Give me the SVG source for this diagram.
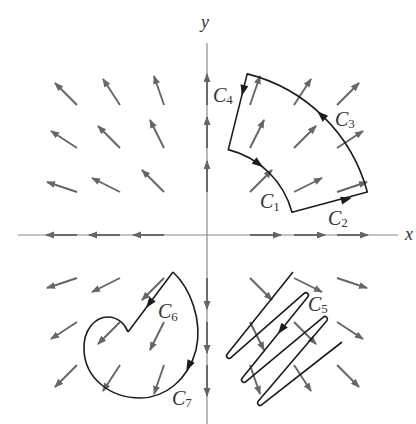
<svg xmlns="http://www.w3.org/2000/svg" width="416" height="424" viewBox="0 0 416 424">
<defs>
<style>
.ax{stroke:#8a8a8a;stroke-width:1.2;fill:none}
.fa line{stroke:#666;stroke-width:1.9;marker-end:url(#fh)}
.cv{stroke:#1c1c1c;stroke-width:1.6;fill:none;stroke-linejoin:round}
.ah{fill:#1c1c1c}
.lb{font-family:"Liberation Serif","DejaVu Serif",serif;font-style:italic;font-size:20px;fill:#333}
.lb tspan{font-size:13px;font-style:normal}
</style>
<marker id="fh" markerUnits="userSpaceOnUse" markerWidth="10" markerHeight="8" refX="8" refY="3.5" orient="auto">
<path d="M0,0 L9,3.5 L0,7 z" fill="#666"/>
</marker>
<path id="ahp" d="M5,0 L-6,-4 L-6,4 z"/>
</defs>
<rect width="416" height="424" fill="#fff"/>
<g id="axes">
<line class="ax" x1="18" y1="235" x2="398" y2="235"/>
<line class="ax" x1="207" y1="43" x2="207" y2="424"/>
<text x="205" y="28" class="lb" text-anchor="middle" style="font-size:18px">y</text>
<text x="405" y="240" class="lb" style="font-size:18px">x</text>
</g>
<g id="field" class="fa" transform="translate(207,235)">
<line x1="43" y1="-43" x2="65" y2="-65"/>
<line x1="87" y1="-43" x2="115" y2="-57"/>
<line x1="130" y1="-43" x2="160" y2="-53"/>
<line x1="43" y1="-87" x2="57" y2="-115"/>
<line x1="87" y1="-87" x2="109" y2="-109"/>
<line x1="130" y1="-87" x2="156" y2="-104"/>
<line x1="43" y1="-130" x2="53" y2="-159"/>
<line x1="87" y1="-130" x2="104" y2="-156"/>
<line x1="130" y1="-130" x2="152" y2="-152"/>
<line x1="-43" y1="-43" x2="-65" y2="-65"/>
<line x1="-87" y1="-43" x2="-115" y2="-57"/>
<line x1="-130" y1="-43" x2="-160" y2="-53"/>
<line x1="-43" y1="-87" x2="-57" y2="-115"/>
<line x1="-87" y1="-87" x2="-109" y2="-109"/>
<line x1="-130" y1="-87" x2="-156" y2="-104"/>
<line x1="-43" y1="-130" x2="-53" y2="-159"/>
<line x1="-87" y1="-130" x2="-104" y2="-156"/>
<line x1="-130" y1="-130" x2="-152" y2="-152"/>
<line x1="-43" y1="43" x2="-65" y2="65"/>
<line x1="-87" y1="43" x2="-115" y2="57"/>
<line x1="-130" y1="43" x2="-160" y2="53"/>
<line x1="-43" y1="87" x2="-57" y2="115"/>
<line x1="-87" y1="87" x2="-109" y2="109"/>
<line x1="-130" y1="87" x2="-156" y2="104"/>
<line x1="-43" y1="130" x2="-53" y2="159"/>
<line x1="-87" y1="130" x2="-104" y2="156"/>
<line x1="-130" y1="130" x2="-152" y2="152"/>
<line x1="43" y1="43" x2="65" y2="65"/>
<line x1="87" y1="43" x2="115" y2="57"/>
<line x1="130" y1="43" x2="160" y2="53"/>
<line x1="43" y1="87" x2="57" y2="115"/>
<line x1="87" y1="87" x2="109" y2="109"/>
<line x1="130" y1="87" x2="156" y2="104"/>
<line x1="43" y1="130" x2="53" y2="159"/>
<line x1="87" y1="130" x2="104" y2="156"/>
<line x1="130" y1="130" x2="152" y2="152"/>
<line x1="43" y1="0" x2="74" y2="0"/>
<line x1="87" y1="0" x2="118" y2="0"/>
<line x1="130" y1="0" x2="161" y2="0"/>
<line x1="-43" y1="0" x2="-74" y2="0"/>
<line x1="-87" y1="0" x2="-118" y2="0"/>
<line x1="-130" y1="0" x2="-161" y2="0"/>
<line x1="0" y1="-43" x2="0" y2="-74"/>
<line x1="0" y1="-87" x2="0" y2="-118"/>
<line x1="0" y1="-130" x2="0" y2="-161"/>
<line x1="0" y1="43" x2="0" y2="74"/>
<line x1="0" y1="87" x2="0" y2="118"/>
<line x1="0" y1="130" x2="0" y2="161"/>
</g>
<g id="curve-C1-C4">
<path class="cv" d="M228.3,149.6 A88,88 0 0 1 292,212.2 L367.3,192 A166,166 0 0 0 247.2,73.9 Z"/>
<use href="#ahp" class="ah" transform="translate(259,164) rotate(36)"/>
<use href="#ahp" class="ah" transform="translate(347,199) rotate(-15)"/>
<use href="#ahp" class="ah" transform="translate(321,114.6) rotate(223.5)"/>
<use href="#ahp" class="ah" transform="translate(243,91) rotate(104)"/>
</g>
<g id="curve-C5">
<path class="cv" d="M293,272 L227.3,354.1 C225,356.5 228.6,360 230.9,357.6 L304.1,293.4 C306.4,291 310,294.5 307.7,296.9 L242.3,378.1 C240,380.5 243.6,384 245.9,381.6 L323.1,317.3 C325.5,315 329,318.6 326.6,320.9 L258.4,401.1 C256,403.4 259.5,407 261.9,404.7 L342,342"/>
<use href="#ahp" class="ah" transform="translate(281,330) rotate(126.6)"/>
</g>
<g id="curve-C6">
<path class="cv" d="M173,272 L128,332"/>
<use href="#ahp" class="ah" transform="translate(149,304) rotate(126.3)"/>
</g>
<g id="curve-C7">
<path class="cv" d="M173,272 C190,288 203,320 196,350 C188,380 165,398 140,398 C110,398 85,378 84,350 C83,330 95,317 108,317 C118,317 125,324 128,332"/>
<use href="#ahp" class="ah" transform="translate(188.5,366.5) rotate(116)"/>
</g>
<g id="labels">
<text class="lb" x="260" y="208">C<tspan dy="3">1</tspan></text>
<text class="lb" x="328" y="225">C<tspan dy="2">2</tspan></text>
<text class="lb" x="335" y="126">C<tspan dy="2">3</tspan></text>
<text class="lb" x="213" y="102">C<tspan dy="2">4</tspan></text>
<text class="lb" x="308" y="311">C<tspan dy="2">5</tspan></text>
<text class="lb" x="158" y="318">C<tspan dy="3">6</tspan></text>
<text class="lb" x="172" y="405">C<tspan dy="2">7</tspan></text>
</g>
</svg>
